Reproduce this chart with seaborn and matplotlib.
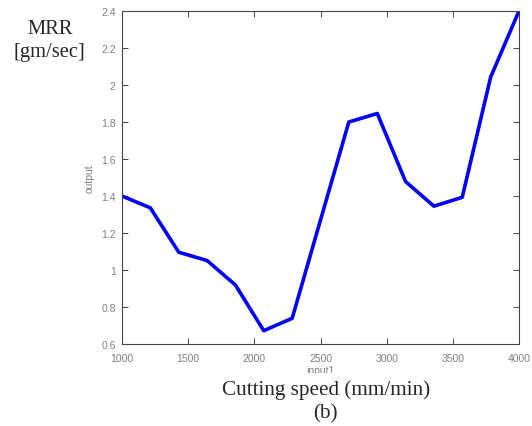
import matplotlib
matplotlib.use("Agg")
import matplotlib.pyplot as plt
import seaborn as sns
import pandas as pd
from matplotlib.patches import Rectangle

# Data
cutting_speed = [1000, 1214, 1429, 1643, 1857, 2071, 2286, 2500, 2714, 2929, 3143, 3357, 3571, 3786, 4000]
mrr = [1.40, 1.336, 1.096, 1.051, 0.919, 0.672, 0.739, 1.27, 1.80, 1.846, 1.478, 1.345, 1.393, 2.043, 2.40]
x_ticks = [1000, 1500, 2000, 2500, 3000, 3500, 4000]
y_ticks = [0.6, 0.8, 1.0, 1.2, 1.4, 1.6, 1.8, 2.0, 2.2, 2.4]
y_tick_labels = ["0.6", "0.8", "1", "1.2", "1.4", "1.6", "1.8", "2", "2.2", "2.4"]

df = pd.DataFrame({"input1": cutting_speed, "output": mrr})

sns.set_style("white")
plt.rcParams["font.family"] = ["Liberation Sans", "DejaVu Sans"]

W, H = 532, 427
fig = plt.figure(figsize=(W / 100, H / 100), dpi=100)
ax = fig.add_axes([122 / W, 1 - 345 / H, (519 - 122) / W, (345 - 12) / H])

sns.lineplot(data=df, x="input1", y="output", ax=ax, color="#0000ff", linewidth=2.6)

ax.set_xlim(1000, 4000)
ax.set_ylim(0.6, 2.4)
ax.set_xticks(x_ticks)
ax.set_xticklabels([str(t) for t in x_ticks])
ax.set_yticks(y_ticks)
ax.set_yticklabels(y_tick_labels)

gray = "#808080"
for s in ax.spines.values():
    s.set_color("#444444")
    s.set_linewidth(0.8)
ax.tick_params(direction="in", length=4, width=0.7, colors="#444444",
               labelcolor=gray, labelsize=7.5, top=True, right=True,
               bottom=True, left=True)
ax.tick_params(axis="x", pad=6.5)
ax.tick_params(axis="y", pad=4.5)
ax.set_xlabel("input1", fontsize=7.5, color=gray, labelpad=1.5)
ax.set_ylabel("output", fontsize=7.5, color=gray, labelpad=4.5)

# white overlay hiding the lower part of the xlabel (as in the reference)
fig.patches.append(Rectangle((0, 0), 1, 1 - 374 / H, transform=fig.transFigure,
                             facecolor="white", edgecolor="none", zorder=5))

serif = ["Liberation Serif", "DejaVu Serif"]
fig.text(50 / W, 1 - 30 / H, "MRR", family=serif, fontsize=14.8,
         ha="center", va="center", zorder=6)
fig.text(49 / W, 1 - 52 / H, "[gm/sec]", family=serif, fontsize=14.8,
         ha="center", va="center", zorder=6)
fig.text(326 / W, 1 - 390 / H, "Cutting speed (mm/min)", family=serif,
         fontsize=15.2, ha="center", va="center", zorder=6)
fig.text(325 / W, 1 - 414 / H, "(b)", family=serif, fontsize=15.2,
         ha="center", va="center", zorder=6)

fig.savefig("out.png", dpi=100, facecolor="white")
